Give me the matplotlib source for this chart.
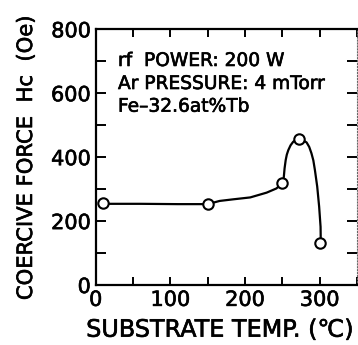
import matplotlib
matplotlib.use("Agg")
import matplotlib.pyplot as plt
import matplotlib.patheffects as pe
from matplotlib.ticker import MultipleLocator

plt.rcParams['font.family'] = ['DejaVu Sans']

# Measured points
temp = [10, 150, 250, 272, 301]
hc = [255, 252, 320, 456, 130]

# Hand-drawn guide curve
curve_t = [10, 60, 110, 150, 166, 184, 207, 229, 242, 251, 252, 253, 254.5,
           256, 258, 261, 264.5, 268, 272, 277, 282.5, 286, 289, 291.5, 293.6,
           296.7, 299.3, 301.2, 301.5]
curve_hc = [254, 254, 253, 253, 263, 268, 274, 289, 302, 320, 339, 365, 391,
            408, 422, 437, 448, 454, 456, 454, 446, 432, 412, 390, 360,
            308, 245, 182, 130]

annot_lines = ["rf  POWER: 200 W", "Ar PRESSURE: 4 mTorr", "Fe\u201332.6at%Tb"]
annot_y = [0.8565, 0.7665, 0.6778]

thick = [pe.withStroke(linewidth=0.45, foreground='black')]

fig = plt.figure(figsize=(3.58, 3.45), dpi=100)
L, R, B, T = 95.7 / 358, 357 / 358, (345 - 285) / 345, (345 - 29.3) / 345
ax = fig.add_axes([L, B, R - L, T - B])

ax.plot(curve_t, curve_hc, color='black', lw=1.6, solid_capstyle='round',
        solid_joinstyle='round')
ax.plot(temp, hc, linestyle='none', marker='o', ms=7.5, mfc='white',
        mec='black', mew=1.5, zorder=3)

ax.set_xlim(0, 350)
ax.set_ylim(0, 800)

ax.xaxis.set_major_locator(MultipleLocator(100))
ax.xaxis.set_minor_locator(MultipleLocator(50))
ax.yaxis.set_major_locator(MultipleLocator(200))
ax.yaxis.set_minor_locator(MultipleLocator(100))

ax.tick_params(axis='both', which='both', direction='in', top=True, right=True,
               width=1.4, labelsize=15, color='black')
ax.tick_params(axis='x', which='both', length=5.5, pad=3.5)
ax.tick_params(axis='y', which='both', length=7, pad=3.5)
for lab in ax.get_xticklabels() + ax.get_yticklabels():
    lab.set_path_effects(thick)

for s in ['left', 'bottom', 'top']:
    ax.spines[s].set_linewidth(1.6)
ax.spines['right'].set_linewidth(0.8)
ax.spines['right'].set_linestyle(':')
ax.spines['right'].set_color('0.4')

for line, yy in zip(annot_lines, annot_y):
    ax.text(0.0853, yy, line, transform=ax.transAxes,
            fontsize=13.4, va='baseline', ha='left', path_effects=thick)

fig.text(26 / 358, 0.5435, "COERCIVE FORCE  Hc  (Oe)", rotation=90,
         ha='center', va='center', fontsize=15.2, path_effects=thick)
fig.text(220.5 / 358, (345 - 336.7) / 345, "SUBSTRATE TEMP. (\u2103)",
         ha='center', va='baseline', fontsize=17.2, path_effects=thick)

fig.savefig("out.png", dpi=100)
